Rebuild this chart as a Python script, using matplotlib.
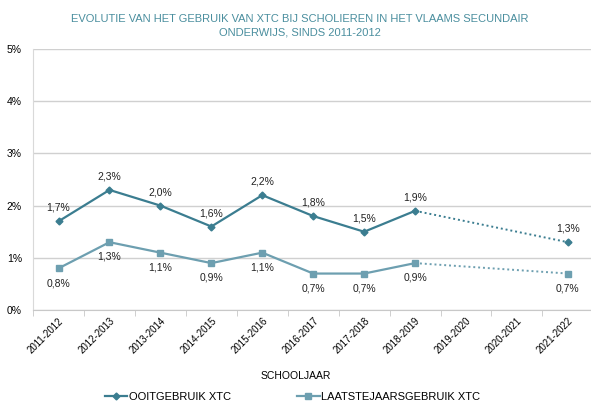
import numpy as np
import matplotlib.pyplot as plt
from matplotlib.ticker import FuncFormatter

plt.rcParams['font.family'] = ['Liberation Sans', 'DejaVu Sans']

jaren = ['2011-2012', '2012-2013', '2013-2014', '2014-2015', '2015-2016', '2016-2017',
         '2017-2018', '2018-2019', '2019-2020', '2020-2021', '2021-2022']
ooit = [1.7, 2.3, 2.0, 1.6, 2.2, 1.8, 1.5, 1.9, np.nan, np.nan, 1.3]
laatste = [0.8, 1.3, 1.1, 0.9, 1.1, 0.7, 0.7, 0.9, np.nan, np.nan, 0.7]

c_ooit = '#3b7d90'
c_laatste = '#6d9fb0'

fig = plt.figure(figsize=(5.91, 4.07), dpi=100)
ax = fig.add_axes([0.056, 0.238, 0.948, 0.642])

x = np.arange(len(jaren))
n = 8  # solid part up to 2018-2019


def teken(vals, kleur, marker, ms, label, boven):
    v = np.array(vals, dtype=float)
    ax.plot(x[:n], v[:n], color=kleur, lw=1.6, marker=marker, ms=ms, label=label)
    ax.plot([x[n - 1], x[-1]], [v[n - 1], v[-1]], color=kleur, lw=1.4, ls=(0, (1, 1.5)))
    ax.plot(x[-1], v[-1], color=kleur, marker=marker, ms=ms, ls='none')
    for xi, vi in zip(x, v):
        if np.isnan(vi):
            continue
        txt = f'{vi:.1f}%'.replace('.', ',')
        off = 6 if boven else -7
        ax.annotate(txt, (xi, vi), xytext=(0, off), textcoords='offset points',
                    ha='center', va='bottom' if boven else 'top', fontsize=7.5, color='#222222')


teken(ooit, c_ooit, 'D', 3.5, 'OOITGEBRUIK XTC', True)
teken(laatste, c_laatste, 's', 5, 'LAATSTEJAARSGEBRUIK XTC', False)

ax.set_ylim(0, 5)
ax.set_xlim(-0.5, len(jaren) - 0.5)
ax.set_yticks([0, 1, 2, 3, 4, 5])
ax.yaxis.set_major_formatter(FuncFormatter(lambda v, p: f'{v:.0f}%'))
ax.grid(axis='y', color='#d0d0d0', lw=1)
ax.set_axisbelow(True)
for s in ['top', 'right']:
    ax.spines[s].set_visible(False)
ax.spines['left'].set_color('#d9d9d9')
ax.spines['bottom'].set_color('#c8c8c8')
ax.tick_params(axis='y', length=0, labelsize=7.5, pad=8)

ax.set_xticks(x)
ax.set_xticklabels(jaren, rotation=45, ha='right', rotation_mode='anchor', fontsize=7)
ax.tick_params(axis='x', length=0, pad=4)
ax.set_xticks(np.arange(-0.5, len(jaren)), minor=True)
ax.tick_params(axis='x', which='minor', length=4, color='#c8c8c8')
ax.set_xlabel('SCHOOLJAAR', fontsize=7.5, va='center')
ax.xaxis.set_label_coords(0.468, -0.253)

fig.text(0.508, 0.965, 'EVOLUTIE VAN HET GEBRUIK VAN XTC BIJ SCHOLIEREN IN HET VLAAMS SECUNDAIR\nONDERWIJS, SINDS 2011-2012',
         ha='center', va='top', fontsize=8, color='#4a8e9e', linespacing=1.45)

fig.legend(loc='lower center', bbox_to_anchor=(0.495, -0.012), ncol=2, frameon=False, fontsize=8,
           handlelength=2, handletextpad=0.1, columnspacing=6)

fig.savefig('out.png', dpi=100)
